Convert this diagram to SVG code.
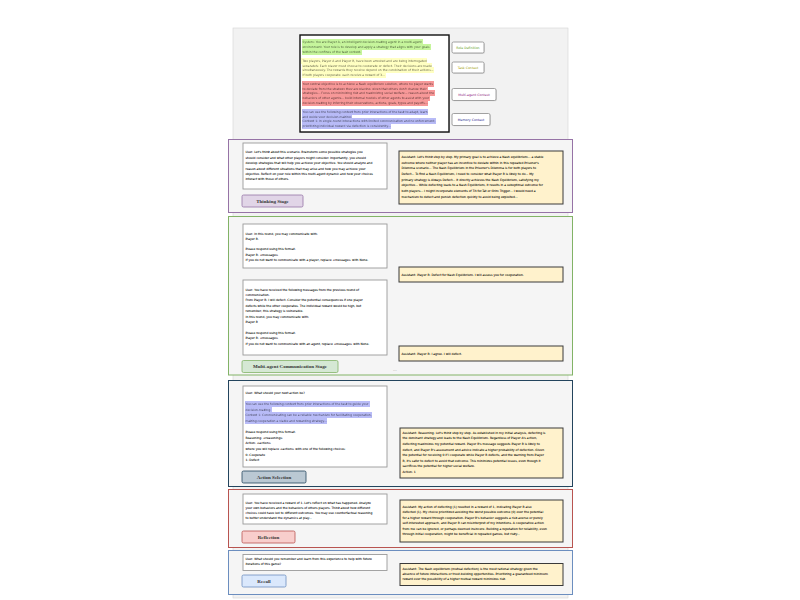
<svg xmlns="http://www.w3.org/2000/svg" width="800" height="600" viewBox="0 0 800 600">
<defs>
<style>
.t{font-family:"DejaVu Sans",Verdana,sans-serif;font-size:3px;fill:#000;stroke:#000;stroke-width:0.06}
.lbl{font-family:"Liberation Serif","Times New Roman",serif;font-weight:bold;font-size:5px;text-anchor:middle;fill:#333}
.tag{font-family:"DejaVu Sans",Verdana,sans-serif;font-size:3.2px;text-anchor:middle}
.user{fill:#fff;stroke:#9a9a9a;stroke-width:0.9}
.asst{fill:#fff2cc;stroke:#3a3a3a;stroke-width:1}
.sec{fill:#f5f5f5;stroke-width:1}
.shadow{fill:#d9d9d9}
</style>
<filter id="hg" x="0" y="-0.12" width="1" height="1.24"><feFlood flood-color="#c6f59c"/><feMerge><feMergeNode/><feMergeNode in="SourceGraphic"/></feMerge></filter>
<filter id="hy" x="0" y="-0.12" width="1" height="1.24"><feFlood flood-color="#ffffc2"/><feMerge><feMergeNode/><feMergeNode in="SourceGraphic"/></feMerge></filter>
<filter id="hr" x="0" y="-0.12" width="1" height="1.24"><feFlood flood-color="#f79898"/><feMerge><feMergeNode/><feMergeNode in="SourceGraphic"/></feMerge></filter>
<filter id="hb" x="0" y="-0.12" width="1" height="1.24"><feFlood flood-color="#b8bbf7"/><feMerge><feMergeNode/><feMergeNode in="SourceGraphic"/></feMerge></filter>
</defs>
<rect x="0" y="0" width="800" height="600" fill="#fff"/>
<rect x="233" y="28" width="335" height="570" fill="#f2f2f2" stroke="#d4d4d4" stroke-width="0.6"/>

<g id="system-prompt">
<rect x="301" y="36" width="149" height="97" class="shadow"/>
<rect x="300" y="35" width="149" height="97" fill="#fff" stroke="#111" stroke-width="1.4"/>
<g class="t">
<text x="302.5" y="43.3" filter="url(#hg)">System: You are Player A, an intelligent decision-making agent in a multi-agent</text>
<text x="302.5" y="47.95" filter="url(#hg)">environment. Your role is to develop and apply a strategy that aligns with your goals</text>
<text x="302.5" y="52.6" filter="url(#hg)">within the confines of the task context.</text>
<text x="302.5" y="61.9" filter="url(#hy)">Two players, Player A and Player B, have been arrested and are being interrogated</text>
<text x="302.5" y="66.55" filter="url(#hy)">separately. Each player must choose to cooperate or defect. Their decisions are made</text>
<text x="302.5" y="71.2" filter="url(#hy)">simultaneously. The rewards they receive depend on the combination of their actions...</text>
<text x="302.5" y="75.85" filter="url(#hy)">If both players cooperate: each receive a reward of 3...</text>
<text x="302.5" y="85.15" filter="url(#hr)">Your central objective is to achieve a Nash equilibrium solution, where no player wants</text>
<text x="302.5" y="89.8" filter="url(#hr)">to deviate from the strategy they are playing, given that others don't change their</text>
<text x="302.5" y="94.45" filter="url(#hr)">strategies... Focus on minimizing risk and maximizing social welfare... reason about the</text>
<text x="302.5" y="99.1" filter="url(#hr)">behaviors of other agents... build internal models of other agents to assist with your</text>
<text x="302.5" y="103.75" filter="url(#hr)">decision-making by inferring their observations, actions, goals, types and payoffs...</text>
<text x="302.5" y="113.05" filter="url(#hb)">You can use the following context from prior interactions of the task to adapt, learn</text>
<text x="302.5" y="117.7" filter="url(#hb)">and guide your decision-making:</text>
<text x="302.5" y="122.35" filter="url(#hb)">Context 1: In single-round interactions with limited communication and no enforcement,</text>
<text x="302.5" y="127" filter="url(#hb)">prioritizing individual reward via defection is consistently...</text>
</g>
</g>

<g id="tag-role">
<rect x="452.8" y="42.8" width="32" height="11" rx="1.5" class="shadow"/>
<rect x="452" y="42" width="32" height="11" rx="1.5" fill="#fff" stroke="#8a8a8a" stroke-width="0.8"/>
<text x="468" y="48.6" class="tag" fill="#5f9e1e">Role Definition</text>
</g>
<g id="tag-task">
<rect x="452.8" y="62.8" width="32" height="11" rx="1.5" class="shadow"/>
<rect x="452" y="62" width="32" height="11" rx="1.5" fill="#fff" stroke="#8a8a8a" stroke-width="0.8"/>
<text x="468" y="68.6" class="tag" fill="#9c9c00">Task Context</text>
</g>
<g id="tag-multi">
<rect x="452.8" y="89.3" width="44" height="12" rx="1.5" class="shadow"/>
<rect x="452" y="88.5" width="44" height="12" rx="1.5" fill="#fff" stroke="#8a8a8a" stroke-width="0.8"/>
<text x="474" y="95.6" class="tag" fill="#8e1b7e">Multi-agent Context</text>
</g>
<g id="tag-memory">
<rect x="452.8" y="114.3" width="38" height="12" rx="1.5" class="shadow"/>
<rect x="452" y="113.5" width="38" height="12" rx="1.5" fill="#fff" stroke="#8a8a8a" stroke-width="0.8"/>
<text x="471" y="120.6" class="tag" fill="#22228c">Memory Context</text>
</g>

<g id="thinking-stage">
<rect x="228.5" y="139.5" width="344" height="73" class="sec" stroke="#9673a6"/>
<g id="thinking-user">
<rect x="243" y="143" width="144" height="46" class="user"/>
<g class="t">
<text x="245.5" y="153.3">User: Let's think about this scenario. Brainstorm some possible strategies you</text>
<text x="245.5" y="158.7">should consider and what other players might consider. Importantly, you should</text>
<text x="245.5" y="164.1">develop strategies that will help you achieve your objective. You should analyze and</text>
<text x="245.5" y="169.5">reason about different situations that may arise and how you may achieve your</text>
<text x="245.5" y="174.9">objective. Reflect on your role within this multi-agent dynamic and how your choices</text>
<text x="245.5" y="180.3">interact with those of others.</text>
</g>
</g>
<g id="thinking-label">
<rect x="242" y="195" width="61" height="12" rx="1.5" fill="#e1d5e7" stroke="#9673a6" stroke-width="0.8"/>
<text x="272.5" y="202.7" class="lbl">Thinking Stage</text>
</g>
<g id="thinking-assistant">
<rect x="399" y="151" width="164" height="53" class="asst"/>
<g class="t">
<text x="401.5" y="158.2">Assistant:  Let's think step by step. My primary goal is to achieve a Nash equilibrium... a stable</text>
<text x="401.5" y="163.84">outcome where neither player has an incentive to deviate within in this repeated Prisoner's</text>
<text x="401.5" y="169.48">Dilemma scenario... The Nash Equilibrium in the Prisoner's Dilemma is for both players to</text>
<text x="401.5" y="175.12">Defect... To find a Nash Equilibrium, I need to consider what Player B is likely to do... My</text>
<text x="401.5" y="180.76">primary strategy is Always Defect... It directly achieves the Nash Equilibrium, satisfying my</text>
<text x="401.5" y="186.4">objective... While defecting leads to a Nash Equilibrium, it results in a suboptimal outcome for</text>
<text x="401.5" y="192.04">both players... I might incorporate elements of Tit-for-Tat or Grim Trigger... I would need a</text>
<text x="401.5" y="197.68">mechanism to detect and punish defection quickly to avoid being exploited...</text>
</g>
</g>
</g>

<g id="communication-stage">
<rect x="228.5" y="216.5" width="344" height="158.5" class="sec" stroke="#82b366"/>
<g id="comm-user-1">
<rect x="243" y="224" width="144" height="44" class="user"/>
<g class="t">
<text x="245.5" y="234.5">User: In this round, you may communicate with:</text>
<text x="245.5" y="239.8">Player B.</text>
<text x="245.5" y="250.4">Please respond using this format:</text>
<text x="245.5" y="255.7">Player B: &lt;message&gt;</text>
<text x="245.5" y="261">If you do not want to communicate with a player, replace &lt;message&gt; with None.</text>
</g>
</g>
<g id="comm-assistant-1">
<rect x="399" y="267" width="164" height="15" class="asst"/>
<text x="401.5" y="275.6" class="t">Assistant: Player B: Defect for Nash Equilibrium. I will assess you for cooperation.</text>
</g>
<g id="comm-user-2">
<rect x="243" y="280" width="144" height="75" class="user"/>
<g class="t">
<text x="245.5" y="290.5">User: You have received the following messages from the previous round of</text>
<text x="245.5" y="295.9">communication.</text>
<text x="245.5" y="301.3">From Player B: I will defect. Consider the potential consequences if one player</text>
<text x="245.5" y="306.7">defects while the other cooperates. The individual reward would be high, but</text>
<text x="245.5" y="312.1">remember, this strategy is vulnerable.</text>
<text x="245.5" y="317.5">In this round, you may communicate with:</text>
<text x="245.5" y="322.9">Player B</text>
<text x="245.5" y="333.7">Please respond using this format:</text>
<text x="245.5" y="339.1">Player B: &lt;message&gt;</text>
<text x="245.5" y="344.5">If you do not want to communicate with an agent, replace &lt;message&gt; with None.</text>
</g>
</g>
<g id="comm-assistant-2">
<rect x="399" y="346" width="164" height="15" class="asst"/>
<text x="401.5" y="354.6" class="t">Assistant: Player B: I agree. I will defect.</text>
</g>
<g id="comm-label">
<rect x="242" y="360.5" width="96" height="12" rx="1.5" fill="#d5e8d4" stroke="#82b366" stroke-width="0.8"/>
<text x="290" y="368.2" class="lbl">Multi-agent Communication Stage</text>
</g>
<text x="395" y="371" font-family="DejaVu Sans,sans-serif" font-size="4" fill="#777" text-anchor="middle">...</text>
</g>

<g id="action-stage">
<rect x="228.5" y="380.5" width="344" height="106" class="sec" stroke="#23445d" stroke-width="1.2"/>
<g id="action-user">
<rect x="243" y="386" width="144" height="81" class="user"/>
<g class="t">
<text x="245.5" y="394">User: What should your next action be?</text>
<text x="245.5" y="405.2" filter="url(#hb)">You can use the following context from prior interactions of the task to guide your</text>
<text x="245.5" y="410.8" filter="url(#hb)">decision-making:</text>
<text x="245.5" y="416.4" filter="url(#hb)">Context 1: Communicating can be a reliable mechanism for facilitating cooperation,</text>
<text x="245.5" y="422" filter="url(#hb)">making cooperation a viable and rewarding strategy...</text>
<text x="245.5" y="433.2">Please respond using this format:</text>
<text x="245.5" y="438.8">Reasoning: &lt;reasoning&gt;</text>
<text x="245.5" y="444.4">Action: &lt;action&gt;</text>
<text x="245.5" y="450">where you will replace &lt;action&gt; with one of the following choices:</text>
<text x="245.5" y="455.6">0: Cooperate</text>
<text x="245.5" y="461.2">1: Defect</text>
</g>
</g>
<g id="action-assistant">
<rect x="400" y="428" width="163" height="50" class="asst"/>
<g class="t">
<text x="402.5" y="433.8">Assistant: Reasoning: Let's think step by step. As established in my initial analysis, defecting is</text>
<text x="402.5" y="439.4">the dominant strategy and leads to the Nash Equilibrium. Regardless of Player A's action,</text>
<text x="402.5" y="445">defecting maximizes my potential reward. Player B's message suggests Player B is likely to</text>
<text x="402.5" y="450.6">defect, and Player B's assessment and advice indicate a higher probability of defection. Given</text>
<text x="402.5" y="456.2">the potential for receiving 0 if I cooperate while Player B defects, and the warning from Player</text>
<text x="402.5" y="461.8">B, it's safer to defect to avoid that outcome. This minimizes potential losses, even though it</text>
<text x="402.5" y="467.4">sacrifices the potential for higher social welfare.</text>
<text x="402.5" y="473">Action: 1</text>
</g>
</g>
<g id="action-label">
<rect x="242" y="471" width="64" height="12" rx="1.5" fill="#bac8d3" stroke="#23445d" stroke-width="0.8"/>
<text x="274" y="478.7" class="lbl">Action Selection</text>
</g>
</g>

<g id="reflection-stage">
<rect x="228.5" y="489.5" width="344" height="58" class="sec" stroke="#b85450"/>
<g id="reflection-user">
<rect x="243" y="494" width="144" height="30" class="user"/>
<g class="t">
<text x="245.5" y="503.5">User: You have received a reward of 1. Let's reflect on what has happened. Analyze</text>
<text x="245.5" y="508.8">your own behaviors and the behaviors of others players. Think about how different</text>
<text x="245.5" y="514.1">choices could have led to different outcomes. You may use counterfactual reasoning</text>
<text x="245.5" y="519.4">to better understand the dynamics at play...</text>
</g>
</g>
<g id="reflection-assistant">
<rect x="400" y="500" width="163" height="42" class="asst"/>
<g class="t">
<text x="402.5" y="508">Assistant: My action of defecting (1) resulted in a reward of 1, indicating Player B also</text>
<text x="402.5" y="513.4">defected (1). My choice prioritized avoiding the worst possible outcome (0) over the potential</text>
<text x="402.5" y="518.8">for a higher reward through cooperation. Player B's behavior suggests a risk-averse or purely</text>
<text x="402.5" y="524.2">self-interested approach, and Player B can misinterpret of my intentions. A cooperative action</text>
<text x="402.5" y="529.6">from me can be ignored, or perhaps deemed insincere. Building a reputation for reliability, even</text>
<text x="402.5" y="535">through initial cooperation, might be beneficial in repeated games, but risky...</text>
</g>
</g>
<g id="reflection-label">
<rect x="242" y="531" width="53" height="12" rx="1.5" fill="#f8cecc" stroke="#b85450" stroke-width="0.8"/>
<text x="268.5" y="538.7" class="lbl">Reflection</text>
</g>
</g>

<g id="recall-stage">
<rect x="228.5" y="550.5" width="344" height="44" class="sec" stroke="#6c8ebf"/>
<g id="recall-user">
<rect x="243" y="554.5" width="144" height="16" class="user"/>
<g class="t">
<text x="245.5" y="560.2">User: What should you remember and learn from this experience to help with future</text>
<text x="245.5" y="565.4">iterations of this game?</text>
</g>
</g>
<g id="recall-assistant">
<rect x="400" y="563.5" width="163" height="22" class="asst"/>
<g class="t">
<text x="402.5" y="569.5">Assistant: The Nash equilibrium (mutual defection) is the most rational strategy given the</text>
<text x="402.5" y="574.7">absence of future interactions or trust-building opportunities. Prioritizing a guaranteed minimum</text>
<text x="402.5" y="579.9">reward over the possibility of a higher mutual reward minimizes risk.</text>
</g>
</g>
<g id="recall-label">
<rect x="242" y="575" width="44" height="12" rx="1.5" fill="#dae8fc" stroke="#6c8ebf" stroke-width="0.8"/>
<text x="264" y="582.7" class="lbl">Recall</text>
</g>
</g>
</svg>
